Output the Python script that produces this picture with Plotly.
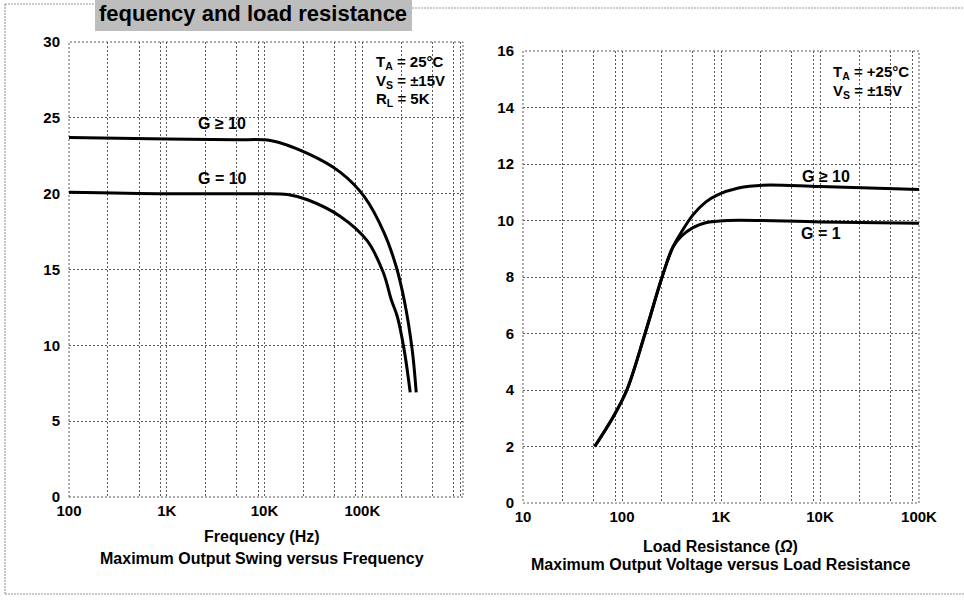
import plotly.graph_objects as go

# ---- Maximum output swing versus frequency (left panel) ----
freq_g_ge10 = [100, 1000, 5000, 11500, 27500, 59700, 104800, 167600, 222000, 268000, 324000, 356000]
swing_g_ge10 = [23.7, 23.6, 23.55, 23.5, 22.65, 21.4, 19.8, 17.4, 15.2, 13.0, 9.7, 6.9]

freq_g10 = [100, 1000, 8000, 17200, 27500, 59700, 112000, 164000, 198000, 228000, 268000, 309000]
swing_g10 = [20.1, 20.0, 20.0, 19.95, 19.6, 18.5, 16.9, 14.8, 13.0, 11.9, 9.7, 6.9]

# ---- Maximum output voltage versus load resistance (right panel) ----
load_g_ge10 = [53, 80, 112, 171, 254, 327, 400, 521, 700, 912, 1500, 2660, 10000, 100000]
vout_g_ge10 = [2.0, 3.0, 4.0, 6.0, 8.0, 9.06, 9.6, 10.2, 10.65, 10.9, 11.15, 11.25, 11.2, 11.1]

load_g1 = [53, 80, 112, 171, 254, 327, 400, 521, 700, 1150, 10000, 100000]
vout_g1 = [2.0, 3.0, 4.0, 6.0, 8.0, 9.06, 9.45, 9.75, 9.92, 10.0, 9.95, 9.9]

# axis ticks
freq_ticks = [100, 1000, 10000, 100000]
freq_labels = ["100", "1K", "10K", "100K"]
load_ticks = [10, 100, 1000, 10000, 100000]
load_labels = ["10", "100", "1K", "10K", "100K"]
grid_mult = [2.5, 5.2, 8.6]  # intermediate grid lines within each decade

W, H = 964, 601
FONT = "Liberation Sans, Arial, sans-serif"
GRID = "#5a5a5a"
DOTS = "2px,2px"


def px(x):
    return x / W


def py(y):
    return 1 - y / H


freq_minor = [d * m for d in [100, 1000, 10000, 100000] for m in grid_mult] + [1000000]
load_minor = [d * m for d in [10, 100, 1000, 10000] for m in grid_mult]

fig = go.Figure()
curve = dict(color="black", width=3, shape="spline", smoothing=1.0)
fig.add_trace(go.Scatter(x=freq_g_ge10, y=swing_g_ge10, mode="lines", line=curve,
                         xaxis="x", yaxis="y", showlegend=False))
fig.add_trace(go.Scatter(x=freq_g10, y=swing_g10, mode="lines", line=curve,
                         xaxis="x", yaxis="y", showlegend=False))
fig.add_trace(go.Scatter(x=load_g_ge10, y=vout_g_ge10, mode="lines", line=curve,
                         xaxis="x2", yaxis="y2", showlegend=False))
fig.add_trace(go.Scatter(x=load_g1, y=vout_g1, mode="lines", line=curve,
                         xaxis="x2", yaxis="y2", showlegend=False))

tickfont = dict(family=FONT, size=15, color="black", weight="bold")


def xaxis(domain, rng, ticks, labels, minor_vals, anchor):
    return dict(
        domain=domain, type="log", range=rng, anchor=anchor, automargin=False,
        tickmode="array", tickvals=ticks, ticktext=labels,
        showgrid=True, gridcolor=GRID, griddash=DOTS, gridwidth=1,
        minor=dict(tickmode="array", tickvals=minor_vals, showgrid=True,
                   gridcolor=GRID, griddash=DOTS, gridwidth=1, ticks=""),
        showline=False, zeroline=False, ticks="", tickfont=tickfont,
        ticklabelstandoff=3,
    )


def yaxis(domain, rng, dtick, anchor):
    return dict(
        domain=domain, range=rng, dtick=dtick, tick0=0, anchor=anchor, automargin=False,
        showgrid=True, gridcolor=GRID, griddash=DOTS, gridwidth=1,
        showline=False, zeroline=False, ticks="", tickfont=tickfont,
        ticklabelstandoff=8,
    )


fig.update_layout(
    width=W, height=H,
    margin=dict(l=0, r=0, t=0, b=0, autoexpand=False),
    paper_bgcolor="white", plot_bgcolor="white",
    xaxis=xaxis([px(69), px(463)], [2, 6.03], freq_ticks, freq_labels, freq_minor, "y"),
    yaxis=yaxis([py(497), py(42)], [0, 30], 5, "x"),
    xaxis2=xaxis([px(523), px(919)], [1, 5], load_ticks, load_labels, load_minor, "y2"),
    yaxis2=yaxis([py(503), py(51)], [0, 16], 2, "x2"),
)

shapes = []
# dotted plot frames
for xr, yr in [("x domain", "y domain"), ("x2 domain", "y2 domain")]:
    shapes.append(dict(type="rect", xref=xr, yref=yr, x0=0, x1=1, y0=0, y1=1,
                       line=dict(color=GRID, width=1, dash=DOTS), layer="below"))
# page border
border = dict(color="#9a9a9a", width=1.2, dash="2px,1px")
shapes += [
    dict(type="line", xref="paper", yref="paper", x0=px(5), x1=px(5), y0=py(4), y1=py(594), line=border),
    dict(type="line", xref="paper", yref="paper", x0=px(5), x1=1, y0=py(594), y1=py(594), line=border),
    dict(type="line", xref="paper", yref="paper", x0=px(5), x1=px(95), y0=py(4), y1=py(4), line=border),
    dict(type="line", xref="paper", yref="paper", x0=px(412), x1=1, y0=py(8), y1=py(8), line=border),
]
# heading band
shapes.append(dict(type="rect", xref="paper", yref="paper", x0=px(95), x1=px(412),
                   y0=py(31), y1=1, fillcolor="#bdbdbd", line=dict(width=0), layer="below"))
fig.update_layout(shapes=shapes)


def label(x, y, text, size=15, xanchor="center"):
    fig.add_annotation(x=px(x), y=py(y), xref="paper", yref="paper", text=text,
                       showarrow=False, xanchor=xanchor, yanchor="middle",
                       font=dict(family=FONT, size=size, color="black", weight="bold"))


label(253, 14, "fequency and load resistance", size=22)

# left panel labels
label(374, 62, "T<sub>A</sub> = 25°C", 15, "left")
label(374, 81, "V<sub>S</sub> = ±15V", 15, "left")
label(374, 100, "R<sub>L</sub> = 5K", 15, "left")
label(222, 123, "G ≥ 10", 16)
label(222, 179, "G = 10", 16)
label(262, 536, "Frequency (Hz)", 16)
label(262, 558, "Maximum Output Swing versus Frequency", 16)

# right panel labels
label(831, 72, "T<sub>A</sub> = +25°C", 15, "left")
label(831, 92, "V<sub>S</sub> = ±15V", 15, "left")
label(826, 177, "G ≥ 10", 16)
label(821, 233, "G = 1", 16)
label(720, 546, "Load Resistance (<i>Ω</i>)", 16)
label(720, 564, "Maximum Output Voltage versus Load Resistance", 16)

fig.write_html("out.html")
